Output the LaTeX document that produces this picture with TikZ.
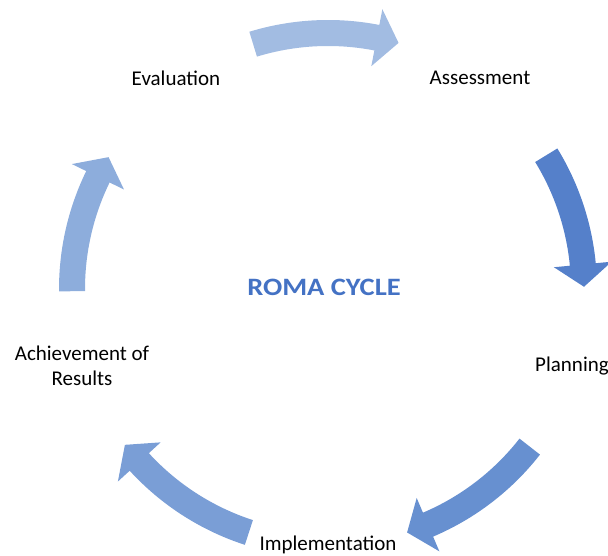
\documentclass[tikz,border=0pt]{standalone}
\usepackage{fontspec}
\setmainfont{Carlito}
\definecolor{arrA}{HTML}{5580CA}
\definecolor{arrB}{HTML}{6790D0}
\definecolor{arrC}{HTML}{7A9ED6}
\definecolor{arrD}{HTML}{8DADDC}
\definecolor{arrE}{HTML}{A2BCE2}
\definecolor{titleblue}{HTML}{4472C4}
\tikzset{
  lbl/.style={font=\fontsize{21}{25}\selectfont, text=black, align=center, inner sep=0pt},
  ttl/.style={font=\fontsize{25}{29}\selectfont\bfseries, text=titleblue, inner sep=0pt, xscale=1.14, transform shape}
}
% #1 tail angle, #2 tip angle, #3 colour
\newcommand{\cycarrow}[3]{%
  \pgfmathsetmacro{\hb}{#2+5}%
  \fill[#3] (#1:269pt) arc[start angle=#1, end angle=\hb, radius=269pt]
     -- (\hb:285pt) -- (#2:256pt) -- (\hb:227pt) -- (\hb:243pt)
     arc[start angle=\hb, end angle=#1, radius=243pt] -- cycle;}
\begin{document}
\begin{tikzpicture}[x=1pt,y=-1pt]
\useasboundingbox (0,0) rectangle (608,556);
\begin{scope}[shift={(328pt,-289pt)}]
  \cycarrow{107}{74}{arrE}
  \cycarrow{31.5}{0.5}{arrA}
  \cycarrow{-38}{-72}{arrB}
  \cycarrow{-108}{-142.5}{arrC}
  \cycarrow{180.5}{149}{arrD}
\end{scope}
\node[ttl] (title) at (324,287) {ROMA CYCLE};
\node[lbl] (assess) at (480,78) {Assessment};
\node[lbl] (plan) at (572,366) {Planning};
\node[lbl] (impl) at (328,545) {Implementation};
\node[lbl] (achieve) at (82,366) {Achievement of\\Results};
\node[lbl] (eval) at (176,78) {Evaluation};
\end{tikzpicture}
\end{document}
